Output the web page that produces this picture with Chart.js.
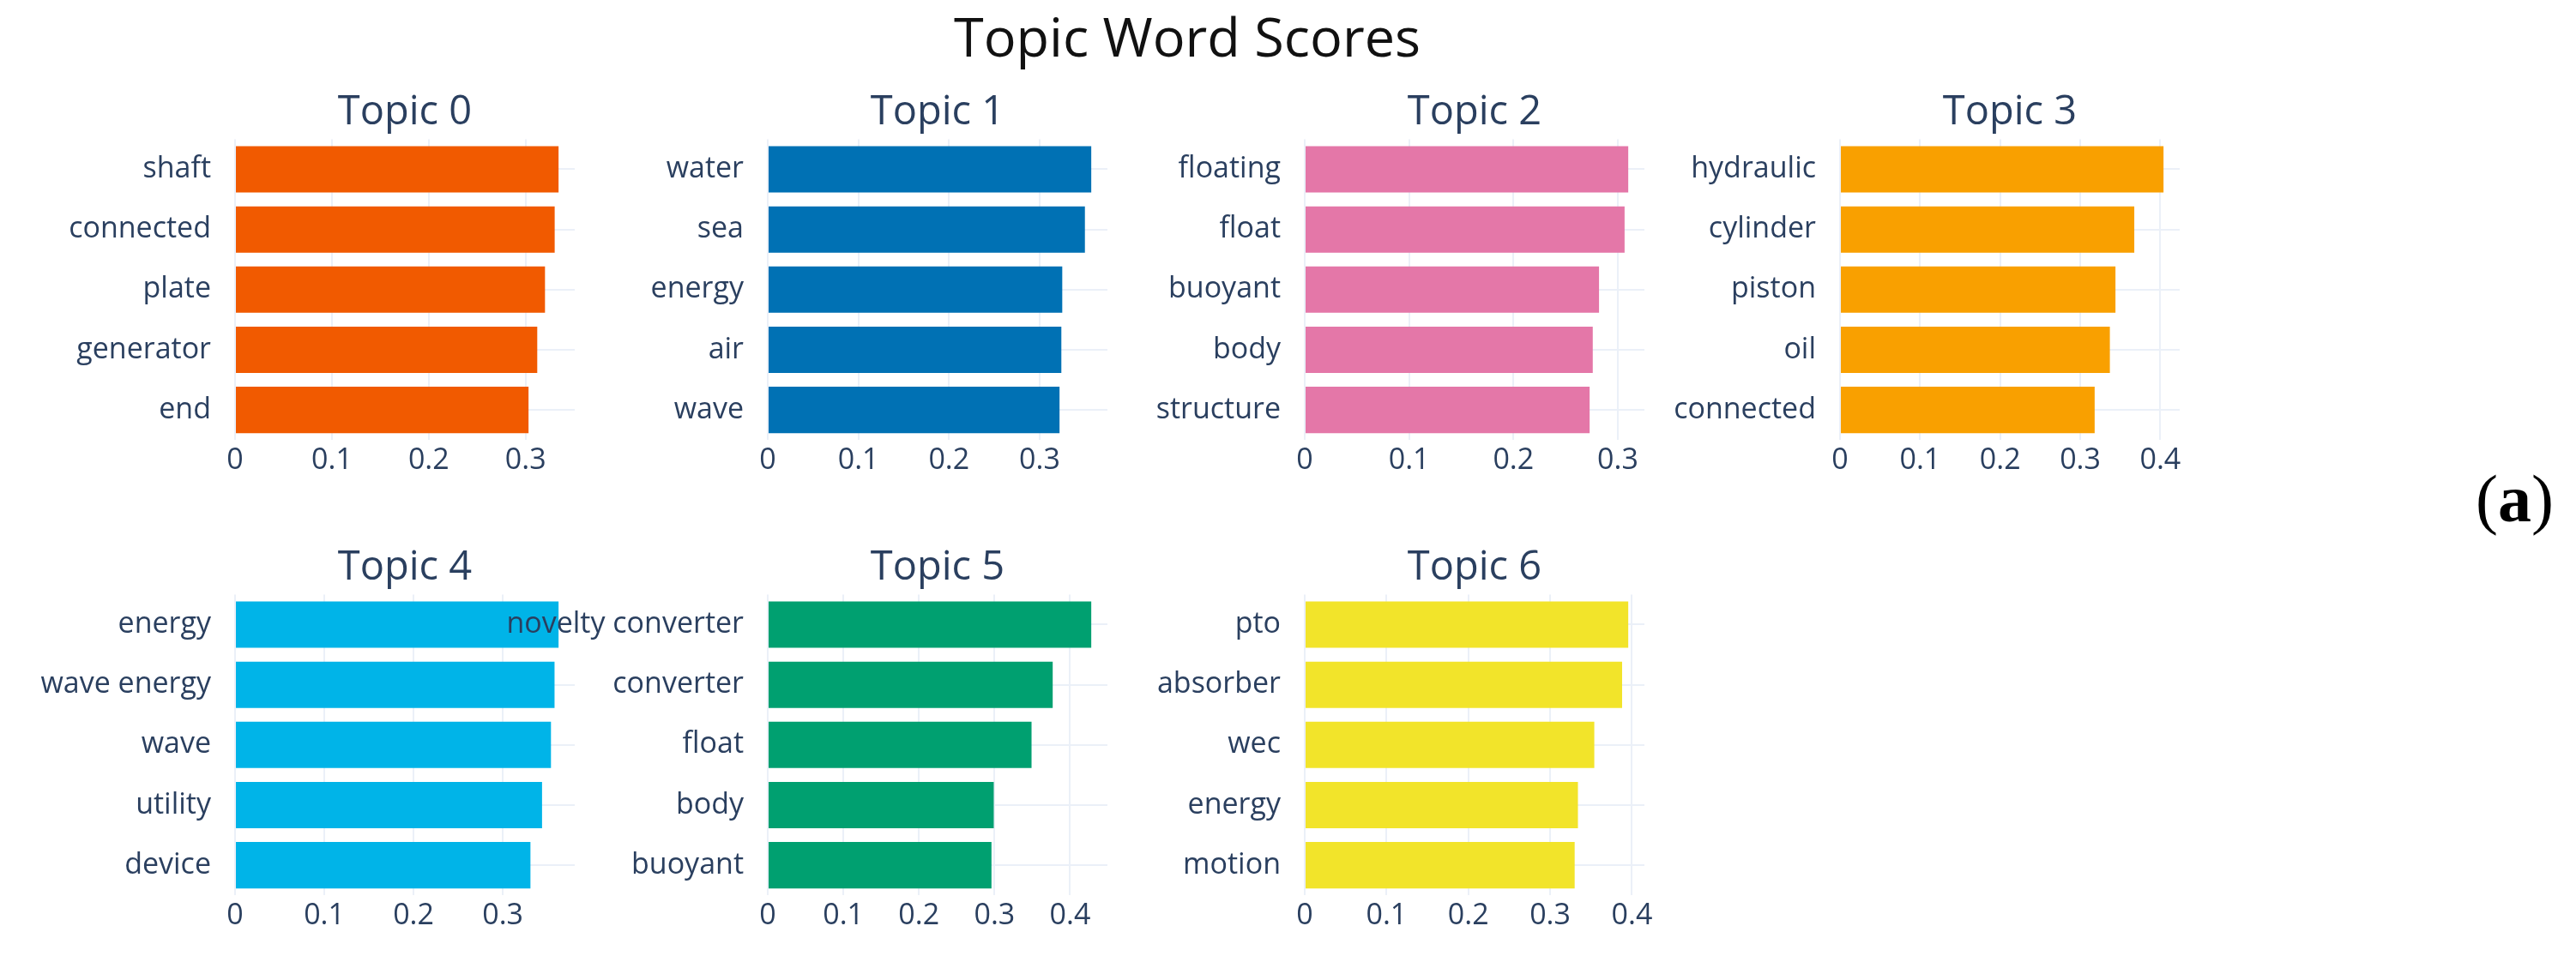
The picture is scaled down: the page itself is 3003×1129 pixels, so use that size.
<!DOCTYPE html>
<html>
<head>
<meta charset="utf-8">
<title>Topic Word Scores</title>
<script src="https://cdn.jsdelivr.net/npm/chart.js@4.4.1/dist/chart.umd.min.js"></script>
<style>
  html, body { margin: 0; padding: 0; background: #fff; }
  body { width: 3003px; height: 1129px; position: relative; overflow: hidden; font-family: 'Open Sans', sans-serif; }
  .panel { position: absolute; }
  #mainTitle { position: absolute; left: 784px; top: 4px; width: 1200px; text-align: center; font-size: 63px; line-height: 1.2; color: #111; }
  #figLabel { position: absolute; left: 2886px; top: 543px; font-family: 'Liberation Serif', serif; font-size: 78px; line-height: 1; color: #000; }
</style>
</head>
<body>
<div id="mainTitle">Topic Word Scores</div>
<div id="figLabel">(<b>a</b>)</div>

<script>
// data
const topicTitles = ["Topic 0", "Topic 1", "Topic 2", "Topic 3", "Topic 4", "Topic 5", "Topic 6"];

const words0 = ["shaft", "connected", "plate", "generator", "end"];
const scores0 = [0.334, 0.330, 0.320, 0.312, 0.303];

const words1 = ["water", "sea", "energy", "air", "wave"];
const scores1 = [0.357, 0.350, 0.325, 0.324, 0.322];

const words2 = ["floating", "float", "buoyant", "body", "structure"];
const scores2 = [0.310, 0.3065, 0.282, 0.276, 0.273];

const words3 = ["hydraulic", "cylinder", "piston", "oil", "connected"];
const scores3 = [0.404, 0.3675, 0.344, 0.337, 0.318];

const words4 = ["energy", "wave energy", "wave", "utility", "device"];
const scores4 = [0.3625, 0.358, 0.354, 0.344, 0.331];

const words5 = ["novelty converter", "converter", "float", "body", "buoyant"];
const scores5 = [0.428, 0.377, 0.349, 0.299, 0.296];

const words6 = ["pto", "absorber", "wec", "energy", "motion"];
const scores6 = [0.3955, 0.388, 0.354, 0.334, 0.330];

const allWords = [words0, words1, words2, words3, words4, words5, words6];
const allScores = [scores0, scores1, scores2, scores3, scores4, scores5, scores6];

const barColors = ["#F15A00", "#0071B4", "#E477A8", "#F9A000", "#00B4E8", "#00A070", "#F2E42A"];

// layout (px)
const colZero = [274, 895, 1521, 2145];
const rowPlotTop = [162, 693];
const yAxisW = 360;
const plotW = 396;
const padRight = 30;
const titleBoxH = 47 * 1.2 + 3;
const canvasH = 459;

const labelColor = '#2a3f5f';
const gridColor = '#EBF0F8';

Chart.defaults.font.family = "'Open Sans', sans-serif";
Chart.defaults.color = labelColor;
Chart.defaults.animation = false;

topicTitles.forEach((title, i) => {
  const col = i % 4;
  const row = Math.floor(i / 4);

  const div = document.createElement('div');
  div.className = 'panel';
  div.style.left = (colZero[col] - yAxisW) + 'px';
  div.style.top = (rowPlotTop[row] - titleBoxH) + 'px';
  const canvas = document.createElement('canvas');
  canvas.width = yAxisW + plotW + padRight;
  canvas.height = canvasH;
  div.appendChild(canvas);
  document.body.appendChild(div);

  const scores = allScores[i];
  const axisMax = Math.max(...scores) * 1.05;

  new Chart(canvas.getContext('2d'), {
    type: 'bar',
    data: {
      labels: allWords[i],
      datasets: [{
        data: scores,
        backgroundColor: barColors[i],
        borderWidth: 0,
        barPercentage: 0.77,
        categoryPercentage: 1.0,
      }],
    },
    options: {
      indexAxis: 'y',
      responsive: false,
      devicePixelRatio: 1,
      layout: { padding: { left: 0, right: padRight, top: 0, bottom: 0 } },
      plugins: {
        legend: { display: false },
        tooltip: { enabled: false },
        title: {
          display: true,
          text: title,
          fullSize: false,
          color: labelColor,
          font: { size: 47, weight: 'normal' },
          padding: { top: 0, bottom: 3 },
        },
      },
      scales: {
        x: {
          type: 'linear',
          min: 0,
          max: axisMax,
          border: { display: false },
          grid: { color: gridColor, lineWidth: 2, drawTicks: false },
          ticks: {
            stepSize: 0.1,
            includeBounds: false,
            maxRotation: 0,
            autoSkip: false,
            padding: 4,
            color: labelColor,
            font: { size: 34 },
            callback: (v) => String(+v.toFixed(1)),
          },
        },
        y: {
          border: { display: false },
          grid: { color: gridColor, lineWidth: 2, drawTicks: false, offset: false },
          ticks: {
            padding: 28,
            color: labelColor,
            font: { size: 34 },
          },
          afterFit: (scale) => { scale.width = yAxisW; },
        },
      },
    },
  });
});
</script>
</body>
</html>
